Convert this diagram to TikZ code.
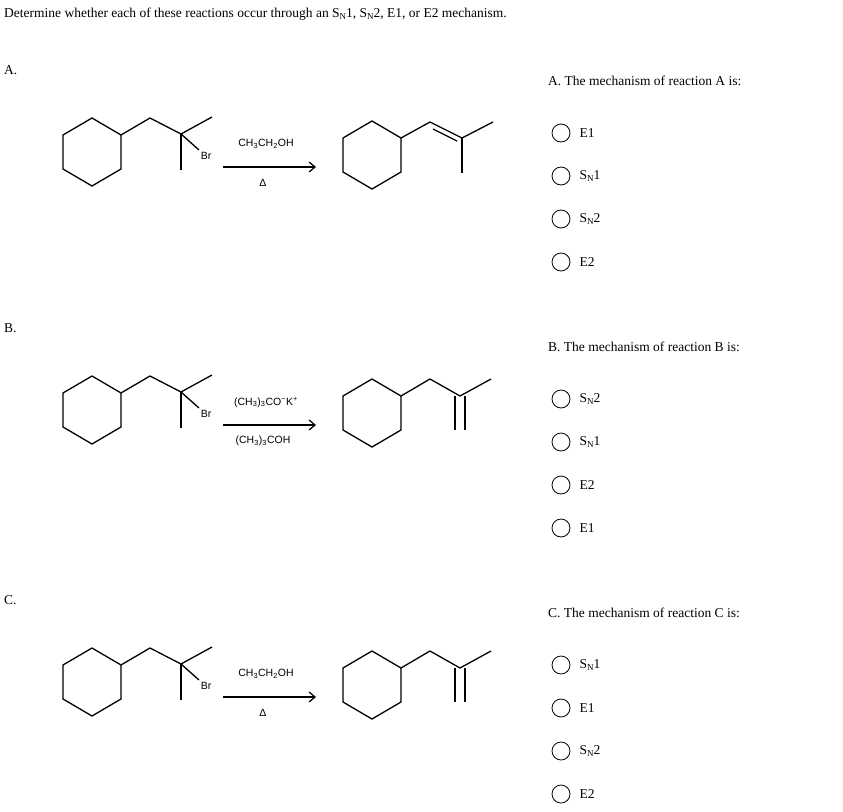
\documentclass[tikz,border=0pt]{standalone}
\usepackage{fontspec}
\usetikzlibrary{arrows.meta,positioning}
\setmainfont{Liberation Serif}
\newfontfamily\chemfont{Liberation Sans}
\newcommand{\SN}[1]{S\raisebox{-0.35ex}{\small N}#1}
\tikzset{
  bond/.style={line width=1.3pt, line join=miter},
  chemlabel/.style={font=\chemfont\fontsize{10.5}{12}\selectfont, inner sep=0pt},
  question/.style={font=\fontsize{13.5}{16}\selectfont, anchor=west, inner sep=0pt},
  optcircle/.style={circle, draw, line width=0.8pt, minimum size=18pt, inner sep=0pt},
  opttext/.style={font=\fontsize{13.5}{16}\selectfont, anchor=west, inner sep=0pt},
  pics/hexring/.style={code={
    \draw[bond] (-29,-17) -- (0,-34) -- (29,-17) -- (29,17) -- (0,34) -- (-29,17) -- cycle;
  }}
}
\begin{document}
\begin{tikzpicture}[x=1pt,y=-1pt]
\useasboundingbox (0,0) rectangle (843,811);

\node [anchor=west, inner sep=0pt, font=\fontsize{13.5}{16}\selectfont] (title) at (4,14)
  {Determine whether each of these reactions occur through an \SN1, \SN2, E1, or E2 mechanism.};

% three reactions
\foreach \lab/\dy/\reagup/\reagdn/\kind in {A/0/{CH\textsubscript{3}CH\textsubscript{2}OH}/{Δ}/1,
                                       B/258/{(CH\textsubscript{3})\textsubscript{3}CO\textsuperscript{−}K\textsuperscript{+}}/{(CH\textsubscript{3})\textsubscript{3}COH}/2,
                                       C/530/{CH\textsubscript{3}CH\textsubscript{2}OH}/{Δ}/2}{
  \node [anchor=west, inner sep=0pt, font=\fontsize{13.5}{16}\selectfont] (lab\lab) at (4,70+\dy) {\lab.};
  \begin{scope}[yshift=-\dy]
    % reactant
    \pic at (92,152) {hexring};
    \draw[bond] (121,135) -- (150,118) -- (181,134) -- (212,117);
    \draw[bond] (181,134) -- (181,170);
    \draw[bond] (181,134) -- (199,150);
    \node [chemlabel] (br\lab) at (206,156) {Br};
    % arrow
    \coordinate (as\lab) at (223,167);
    \coordinate (ae\lab) at (316,167);
    \draw[line width=1.2pt, -{Straight Barb[length=6pt,width=10pt]}] (as\lab) -- (ae\lab);
    \node [chemlabel] (up\lab) at (266,144) {\reagup};
    \node [chemlabel] (dn\lab) at (263,183) {\reagdn};
    % product
    \pic at (372,155) {hexring};
    \ifnum\kind=1
      \draw[bond] (401,138) -- (430,122) -- (462,138) -- (493,122);
      \draw[bond] (462,138) -- (462,173);
      \draw[bond] (433,129) -- (457,141);
    \else
      \draw[bond] (401,138) -- (430,121) -- (460,138) -- (491,121);
      \draw[bond] (455,138) -- (455,172);
      \draw[bond] (465,138) -- (465,172);
    \fi
  \end{scope}
}

% questions
\foreach \lab/\dy/\oa/\ob/\oc/\od in {A/0/E1/\SN1/\SN2/E2,
                                      B/266/\SN2/\SN1/E2/E1,
                                      C/532/\SN1/E1/\SN2/E2}{
  \node [question] (q\lab) at (548,81+\dy) {\lab. The mechanism of reaction \lab\ is:};
  \foreach \opt [count=\i] in {\oa,\ob,\oc,\od}{
    \node [optcircle] (c\lab\i) at (561,133+\dy+43*\i-43) {};
    \node [opttext, right=9pt of c\lab\i] (t\lab\i) {\opt};
  }
}
\end{tikzpicture}
\end{document}
